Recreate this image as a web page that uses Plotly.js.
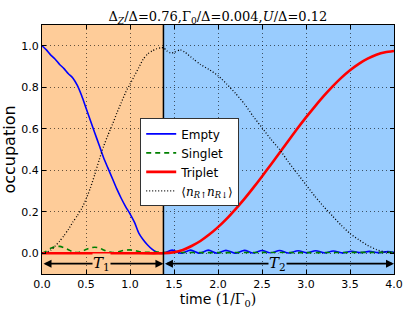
<!DOCTYPE html>
<html>
<head>
<meta charset="utf-8">
<script src="https://cdn.plot.ly/plotly-3.0.1.min.js"></script>
<style>html,body{margin:0;padding:0;background:#fff;}#chart{width:415px;height:312px;}</style>
</head>
<body>
<div id="chart"></div>
<script>
// ---- data ----
const tEmpty = [0,0.05,0.1,0.15,0.2,0.25,0.3,0.35,0.4,0.45,0.5,0.55,0.6,0.65,0.7,0.75,0.8,0.85,0.9,0.95,1.0,1.05,1.1,1.15,1.2,1.25,1.3,1.33,1.38,
  1.48,1.58,1.69,1.79,1.89,1.99,2.09,2.2,2.3,2.4,2.5,2.6,2.7,2.8,2.91,3.01,3.11,3.21,3.31,3.42,3.52,3.62,3.72,3.82,3.93,4.0];
const empty = [1.0,0.98,0.955,0.935,0.91,0.89,0.865,0.845,0.81,0.76,0.70,0.64,0.58,0.52,0.46,0.41,0.36,0.31,0.265,0.225,0.19,0.15,0.097,0.065,0.04,0.02,0.006,0.0,0.0,
  0.015,0.0,0.015,0.0,0.015,0.0,0.014,0.0,0.014,0.001,0.013,0.001,0.013,0.001,0.012,0.002,0.012,0.002,0.011,0.002,0.010,0.003,0.009,0.003,0.008,0.005];

const tSinglet = [0,0.05,0.1,0.15,0.2,0.25,0.3,0.35,0.4,0.45,0.5,0.55,0.6,0.65,0.7,0.75,0.8,0.85,0.9,0.95,1.0,1.05,1.1,1.15,1.2,1.25,1.3,1.35,1.38,
  1.5,2.0,2.5,3.0,3.5,4.0];
const singlet = [0,0.01,0.024,0.032,0.033,0.027,0.017,0.007,0.003,0.008,0.018,0.026,0.029,0.026,0.016,0.007,0.003,0.006,0.011,0.015,0.016,0.013,0.008,0.005,0.004,0.005,0.006,0.005,0.004,
  0.004,0.003,0.004,0.003,0.004,0.004];

const tTriplet = [0,0.5,1.0,1.38,1.5,1.6,1.7,1.8,1.9,2.0,2.1,2.2,2.3,2.4,2.5,2.6,2.7,2.8,2.9,3.0,3.1,3.2,3.3,3.4,3.5,3.6,3.7,3.8,3.9,4.0];
const triplet = [0,0,0,0,0.005,0.016,0.035,0.059,0.09,0.126,0.167,0.213,0.262,0.315,0.37,0.427,0.484,0.542,0.60,0.655,0.707,0.757,0.803,0.845,0.882,0.913,0.938,0.957,0.969,0.975];

const tNN = [0,0.05,0.1,0.15,0.2,0.25,0.3,0.35,0.4,0.45,0.5,0.55,0.6,0.65,0.7,0.75,0.8,0.85,0.9,0.95,1.0,1.05,1.1,1.15,1.2,1.25,1.3,1.35,1.38,
  1.42,1.46,1.5,1.57,1.62,1.72,1.8,1.9,2.0,2.1,2.2,2.3,2.4,2.5,2.6,2.7,2.8,2.9,3.0,3.1,3.2,3.3,3.4,3.5,3.6,3.7,3.8,3.9,4.0];
const nn = [0,0.004,0.015,0.035,0.058,0.085,0.115,0.15,0.18,0.215,0.26,0.315,0.38,0.45,0.515,0.57,0.62,0.675,0.725,0.775,0.815,0.855,0.895,0.935,0.96,0.975,0.985,0.99,0.99,
  0.975,0.965,0.968,0.98,0.97,0.936,0.91,0.885,0.856,0.815,0.77,0.72,0.66,0.605,0.55,0.5,0.44,0.385,0.33,0.275,0.225,0.18,0.135,0.095,0.065,0.038,0.018,0.006,0.003];

const seriesNames = ['Empty','Singlet','Triplet',
  '<span style="font-family:DejaVu Serif">⟨<i>n</i><sub><i>R</i>↑</sub><i>n</i><sub><i>R</i>↓</sub>⟩</span>'];
const tSwitch = 1.38;
const tMin = 0, tMax = 4.0;
const xTicks = [0,0.5,1.0,1.5,2.0,2.5,3.0,3.5,4.0];
const yTicks = [0,0.2,0.4,0.6,0.8,1.0];

const orange = '#FECC99', lightblue = '#99CCFE';

const traces = [
  {x:tEmpty, y:empty, name:seriesNames[0], mode:'lines', line:{color:'#0000FF', width:1.6, shape:'spline', smoothing:0.8}},
  {x:tSinglet, y:singlet, name:seriesNames[1], mode:'lines', line:{color:'#008000', width:1.6, dash:'5px,4px', shape:'spline', smoothing:0.8}},
  {x:tTriplet, y:triplet, name:seriesNames[2], mode:'lines', line:{color:'#FF0000', width:2.6, shape:'spline', smoothing:0.6}},
  {x:tNN, y:nn, name:seriesNames[3], mode:'lines', line:{color:'#000000', width:1.3, dash:'1px,2px', shape:'spline', smoothing:0.6}}
];

const axisCommon = {
  showline:true, linecolor:'#000', linewidth:1, mirror:'allticks',
  ticks:'inside', ticklen:4, tickcolor:'#000', tickwidth:1,
  showgrid:true, gridcolor:'rgba(0,0,0,0.6)', griddash:'1px,3px', gridwidth:1,
  zeroline:false, tickfont:{family:'DejaVu Sans', size:11, color:'#000'}
};

const layout = {
  width:415, height:312,
  margin:{l:42, r:21, t:25, b:38},
  paper_bgcolor:'#fff', plot_bgcolor:'#fff',
  showlegend:true,
  title:{text:'Δ<sub><i>Z</i></sub>/Δ=0.76,Γ<sub>0</sub>/Δ=0.004,<i>U</i>/Δ=0.12',
    font:{family:'DejaVu Serif', size:13, color:'#000'}, x:0.525, xanchor:'center', y:0.948, yanchor:'middle'},
  xaxis:Object.assign({}, axisCommon, {range:[tMin,tMax], tickvals:xTicks, tickformat:'.1f',
    title:{text:'time <span style="font-family:DejaVu Serif">(1/Γ<sub>0</sub>)</span>', font:{family:'DejaVu Sans', size:14, color:'#000'}, standoff:3}}),
  yaxis:Object.assign({}, axisCommon, {range:[-0.1,1.1], tickvals:yTicks, tickformat:'.1f',
    title:{text:'occupation', font:{family:'DejaVu Sans', size:16, color:'#000'}, standoff:5}}),
  legend:{x:0.279, y:0.625, xanchor:'left', yanchor:'top', bgcolor:'#fff', bordercolor:'#333', borderwidth:1,
    font:{family:'DejaVu Sans', size:12, color:'#000'}, tracegroupgap:0, itemwidth:30},
  shapes:[
    {type:'rect', xref:'x', yref:'paper', x0:tMin, x1:tSwitch, y0:0, y1:1, fillcolor:orange, line:{width:0}, layer:'below'},
    {type:'rect', xref:'x', yref:'paper', x0:tSwitch, x1:tMax, y0:0, y1:1, fillcolor:lightblue, line:{width:0}, layer:'below'},
    {type:'line', xref:'x', yref:'paper', x0:tSwitch, x1:tSwitch, y0:0, y1:1, line:{color:'#000', width:1.5}}
  ],
  annotations:[
    {x:tSwitch, y:-0.05, ax:tMin, ay:-0.05, xref:'x', yref:'y', axref:'x', ayref:'y', text:'', showarrow:true,
      arrowhead:2, startarrowhead:2, arrowside:'end+start', arrowsize:1, startarrowsize:1, arrowwidth:1.6, arrowcolor:'#000'},
    {x:tMax, y:-0.05, ax:tSwitch, ay:-0.05, xref:'x', yref:'y', axref:'x', ayref:'y', text:'', showarrow:true,
      arrowhead:2, startarrowhead:2, arrowside:'end+start', arrowsize:1, startarrowsize:1, arrowwidth:1.6, arrowcolor:'#000'},
    {x:0.68, y:-0.05, xref:'x', yref:'y', text:'<i>T</i><sub>1</sub>', showarrow:false, bgcolor:orange,
      font:{family:'DejaVu Serif', size:15, color:'#000'}, borderpad:0},
    {x:2.68, y:-0.05, xref:'x', yref:'y', text:'<i>T</i><sub>2</sub>', showarrow:false, bgcolor:lightblue,
      font:{family:'DejaVu Serif', size:15, color:'#000'}, borderpad:0}
  ]
};

Plotly.newPlot('chart', traces, layout, {displayModeBar:false, staticPlot:true});
</script>
</body>
</html>
